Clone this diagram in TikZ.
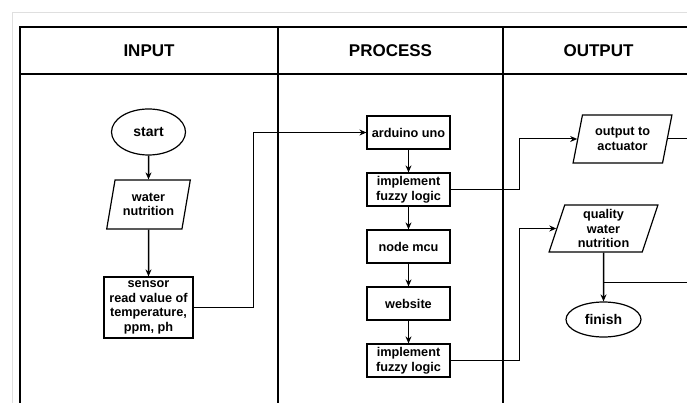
\documentclass[tikz,border=0pt]{standalone}
\usepackage{fontspec}
\setmainfont{Liberation Sans}
\usetikzlibrary{arrows.meta,shapes.geometric}

\begin{document}
\begin{tikzpicture}[x=1pt,y=-1pt,>={Stealth[length=7pt,width=6pt]},node distance=57pt,
                    font=\fontsize{12.7}{14.5}\selectfont\bfseries,
                    proc/.style={draw,line width=1.2pt,rectangle,minimum width=83pt,minimum height=33pt,align=center,inner sep=2pt},
                    inout/.style={draw,line width=1.2pt,trapezium,trapezium left angle=75,trapezium right angle=105,trapezium stretches=true,align=center,inner sep=1pt},
                    term/.style={draw,line width=1.2pt,ellipse,align=center,inner sep=1pt,font=\fontsize{14}{16}\selectfont\bfseries},
                    head/.style={font=\fontsize{17}{20}\selectfont\bfseries},
                    lane/.style={line width=1.6pt},
                    flow/.style={->,line width=1.5pt},
                    route/.style={line width=1pt}]
                    \useasboundingbox (0,0) rectangle (687,403);
                    \clip (0,0) rectangle (687,403);

                    \draw [gray!25] (12,12) rectangle (720,440);
                    \draw [lane] (20,440) |- (720,27);
                    \draw [lane] (20,74) -- (720,74);
                    \draw [lane] (278,27) -- (278,440);
                    \draw [lane] (503,27) -- (503,440);

                    \node[head] (hin) at (149,51) {INPUT};
                    \node[head] (hproc) at (390.5,51) {PROCESS};
                    \node[head] (hout) at (598.5,51) {OUTPUT};

                    \node[term,minimum width=74pt,minimum height=46pt] (start) at (148.5,132) {start};
                    \node[inout,minimum width=84pt,minimum height=49pt] (water) [below of = start,node distance=72.5pt] {water\\nutrition};
                    \node[proc,minimum width=89pt,minimum height=61pt] (sensor) [below of = water,node distance=103pt] {sensor\\read value of\\temperature,\\ppm, ph};

                    \node[proc] (arduino) at (408.5,132.5) {arduino uno};
                    \node[proc] (fuzzy1) [below of = arduino] {implement\\fuzzy logic};
                    \node[proc] (mcu) [below of = fuzzy1] {node mcu};
                    \node[proc] (web) [below of = mcu] {website};
                    \node[proc] (fuzzy2) [below of = web] {implement\\fuzzy logic};

                    \node[inout,minimum width=99pt,minimum height=48pt] (actuator) at (622.5,139) {output to\\actuator};
                    \node[inout,minimum width=109pt,minimum height=47pt] (quality) at (603.5,228.5) {quality\\water\\nutrition};
                    \node[term,minimum width=75pt,minimum height=35pt] (finish) [below of = quality,node distance=91pt] {finish};
                    \coordinate (merge) at ([yshift=-30pt]quality.south);

                    \draw [flow] (start) -- (water);
                    \draw [flow] (water) -- (sensor);
                    \draw [route,->] (sensor.east) -- ++(60,0) |- (arduino);

                    \draw [flow] (arduino) -- (fuzzy1);
                    \draw [flow] (fuzzy1) -- (mcu);
                    \draw [flow] (mcu) -- (web);
                    \draw [flow] (web) -- (fuzzy2);

                    \draw [route,->] (fuzzy1.east) -- ++(69,0) |- (actuator);
                    \draw [route,->] (fuzzy2.east) -- ++(69,0) |- (quality);
                    \draw [flow] (quality) -- (finish);
                    \draw [route] (actuator.east) -- ++(21,0) |- (merge);
                \end{tikzpicture}
\end{document}
